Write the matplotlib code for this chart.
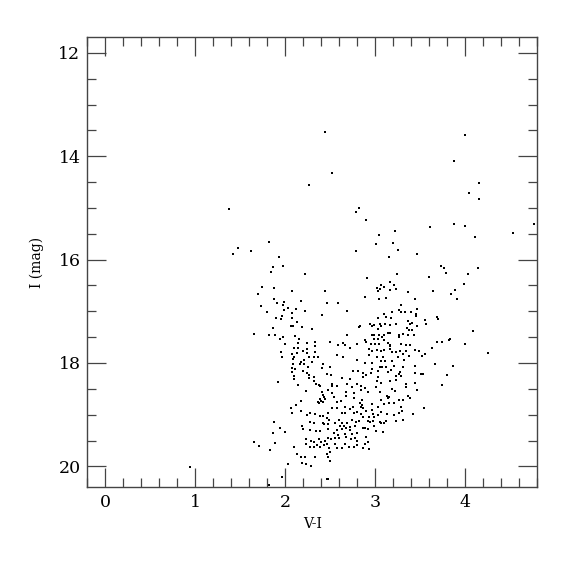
import numpy as np
import matplotlib
matplotlib.use("Agg")
import matplotlib.pyplot as plt
from matplotlib.ticker import MultipleLocator

# colour V-I and magnitude I (rough in the dense core)
vi = [
    1.37, 1.82, 2.44, 2.52, 2.26, 2.82, 2.79, 2.90, 3.61, 3.22, 3.04, 3.20, 3.01,
    4.00, 3.88, 4.16, 4.04, 4.15, 3.88, 4.00, 4.77, 4.53, 4.11,
    1.47, 1.62, 1.42, 1.74, 1.70, 1.73, 1.80, 1.65, 1.82,
    2.79, 1.93, 1.86, 1.97, 1.84, 2.22, 1.87, 2.08, 2.44, 1.88, 1.91, 1.99, 1.98,
    2.17, 2.46, 2.59, 2.03, 2.12, 2.22, 1.99, 2.69, 2.08, 2.41, 1.90, 1.96, 1.95,
    2.08, 2.13, 1.86, 2.06, 2.09, 2.19, 2.30, 2.82, 1.89, 1.98, 2.11, 1.94, 2.15,
    2.69, 2.00, 2.14, 2.24, 2.33, 2.50, 2.59, 2.64, 2.67, 2.72, 2.80, 2.33, 2.10,
    2.14, 2.24, 2.20, 1.95, 2.07, 2.13, 2.24, 2.33, 2.58, 1.96, 2.10, 2.26, 2.32,
    2.36, 2.64, 2.80, 2.09, 2.21, 2.30, 2.17, 2.16, 2.21, 2.09, 2.42, 2.07, 2.11,
    2.25, 2.41, 2.50,
    3.25, 3.47, 3.15, 3.73, 3.76, 3.79, 3.24, 3.60, 2.91, 3.17, 3.07, 3.10, 3.02,
    3.05, 3.03, 3.17, 3.23, 3.21, 3.37, 3.64, 2.89, 3.12, 3.04, 3.44, 3.29, 3.47,
    3.26, 3.29, 3.19, 3.33, 3.40, 3.45, 3.45, 3.10, 3.12, 3.18, 3.03, 3.69, 3.70,
    3.55, 3.37, 3.41, 3.56, 2.94, 2.96, 2.99, 3.05, 3.06, 3.11, 3.16, 3.23, 3.39,
    3.46, 2.83, 3.35, 3.03, 3.41, 3.38, 3.14, 3.16, 2.96, 2.99, 3.04, 3.08, 3.10,
    3.27, 3.31, 3.36, 3.43, 3.27, 2.89, 2.90, 2.99, 3.03, 3.10, 2.95, 3.00, 3.04,
    3.14, 3.16, 3.29, 3.34, 3.39, 3.69, 3.74, 3.82, 3.63, 2.93, 2.97, 3.02, 3.06,
    3.10, 3.16, 3.17, 3.19, 3.23, 3.28, 3.31, 3.34, 3.44, 3.49, 3.55, 3.52, 2.93,
    3.02, 3.09, 3.25, 3.38, 2.89, 2.97, 3.06, 3.11, 3.19, 3.32, 3.44, 3.66, 3.05,
    3.08, 3.12, 3.21, 3.31, 2.97,
    4.14, 4.03, 3.99, 3.89, 3.84, 3.91, 4.09, 3.83, 4.00, 4.26, 3.86,
    1.65, 1.71, 0.94, 1.82,
    2.08, 2.20, 2.24, 2.10, 2.10, 2.26, 2.26, 2.32, 2.46, 2.51, 2.63, 2.72, 2.75,
    2.81, 1.92, 2.14, 2.32, 2.34, 2.37, 2.39, 2.52, 2.52, 2.58, 2.69, 2.74, 2.80,
    2.23, 2.48, 2.41, 2.42, 2.43, 2.44, 2.39, 2.36, 2.37, 2.40, 2.42, 2.52, 2.54,
    2.68, 2.68, 2.58, 2.62, 2.76, 2.77, 2.18, 2.12, 2.06, 2.17, 2.07, 2.52, 2.47,
    2.58, 2.66, 2.72, 2.75, 2.66, 2.63, 2.77, 2.80, 2.24, 2.28, 2.33, 2.39, 2.42,
    2.46, 2.49, 1.87, 2.28, 2.32, 2.42, 2.43, 2.47, 2.55, 2.60, 2.61, 2.63, 2.69,
    2.74, 2.79, 2.82, 2.19, 2.20, 2.27, 2.34, 2.39, 2.48, 2.57, 2.63, 2.65, 2.68,
    2.72, 2.72, 2.78, 1.94, 2.00, 1.86, 2.54, 2.59, 2.67, 2.74, 2.80, 2.23, 2.29,
    2.32, 2.37, 2.40, 2.44, 2.48, 2.51, 2.55, 2.60, 2.68, 2.73, 2.78, 2.80, 1.89,
    2.23, 2.35, 2.43, 2.46, 2.55, 2.67, 2.80, 2.10, 2.27, 2.32, 2.39, 2.49, 2.57,
    2.63, 2.71, 2.76, 1.83, 2.50, 2.46, 2.48, 2.13, 2.17, 2.33, 2.22, 2.19, 2.23,
    2.29, 2.50, 2.03, 1.96, 2.46, 2.48,
    2.87, 2.90, 2.95, 3.03, 3.14, 3.18, 3.23, 3.26, 3.28, 3.29, 3.44, 3.51, 3.53,
    3.80, 2.87, 3.03, 3.16, 3.23, 3.02, 3.07, 3.34, 3.44, 3.74, 2.84, 3.34, 3.01,
    2.89, 3.19, 3.22, 3.46, 2.92, 3.05, 2.84, 3.13, 3.15, 3.14, 3.37, 3.39, 3.27,
    3.31, 3.06, 2.85, 2.83, 2.96, 3.10, 3.15, 3.21, 2.85, 2.84, 2.86, 2.97, 3.03,
    3.06, 3.29, 3.54, 3.30, 2.90, 3.13, 3.21, 3.27, 3.42, 2.98, 3.03, 2.84, 2.87,
    2.93, 2.99, 2.98, 2.92, 2.94, 3.06, 3.05, 3.10, 3.12, 3.23, 3.31, 2.99, 2.86,
    2.89, 2.92, 3.01, 3.09, 2.90, 2.89, 2.92, 2.87, 2.93,
]
imag = [
    15.03, 15.66, 13.53, 14.32, 14.55, 15.01, 15.08, 15.24, 15.36, 15.45, 15.52, 15.67, 15.70,
    13.59, 14.09, 14.52, 14.71, 14.83, 15.31, 15.34, 15.32, 15.48, 15.57,
    15.77, 15.84, 15.89, 16.53, 16.67, 16.90, 17.01, 17.44, 17.45,
    15.83, 15.94, 16.14, 16.12, 16.23, 16.27, 16.54, 16.61, 16.60, 16.77, 16.84, 16.82, 16.88,
    16.81, 16.84, 16.84, 16.93, 16.95, 16.99, 16.98, 16.99, 17.04, 17.08, 17.13, 17.09, 17.14,
    17.13, 17.21, 17.33, 17.29, 17.29, 17.30, 17.35, 17.30, 17.46, 17.49, 17.47, 17.54, 17.54,
    17.46, 17.63, 17.62, 17.61, 17.59, 17.59, 17.65, 17.62, 17.65, 17.71, 17.63, 17.67, 17.71,
    17.71, 17.72, 17.76, 17.79, 17.83, 17.80, 17.80, 17.79, 17.85, 17.89, 17.89, 17.89, 17.89,
    17.89, 17.89, 17.95, 17.93, 17.95, 17.99, 17.99, 18.02, 18.02, 18.02, 18.02, 18.09, 18.11,
    18.08, 18.10, 18.08,
    15.81, 15.90, 15.95, 16.12, 16.17, 16.26, 16.27, 16.33, 16.36, 16.43, 16.50, 16.53, 16.54,
    16.56, 16.61, 16.59, 16.57, 16.50, 16.62, 16.61, 16.72, 16.74, 16.77, 16.76, 16.88, 16.96,
    16.98, 17.01, 17.01, 17.01, 17.01, 17.06, 17.10, 17.06, 17.11, 17.13, 17.13, 17.11, 17.15,
    17.17, 17.18, 17.22, 17.24, 17.25, 17.28, 17.27, 17.24, 17.29, 17.24, 17.27, 17.25, 17.25,
    17.29, 17.29, 17.33, 17.35, 17.36, 17.36, 17.42, 17.42, 17.46, 17.46, 17.46, 17.49, 17.46,
    17.46, 17.44, 17.46, 17.46, 17.50, 17.55, 17.60, 17.54, 17.54, 17.55, 17.63, 17.63, 17.64,
    17.62, 17.65, 17.64, 17.65, 17.66, 17.60, 17.60, 17.55, 17.71, 17.73, 17.76, 17.74, 17.76,
    17.75, 17.67, 17.73, 17.78, 17.79, 17.77, 17.82, 17.77, 17.75, 17.77, 17.82, 17.87, 17.85,
    17.89, 17.89, 17.89, 17.87, 18.00, 18.00, 17.96, 17.96, 17.97, 17.95, 18.05, 18.02, 18.08,
    18.07, 18.07, 18.05, 18.07, 18.11,
    16.16, 16.27, 16.47, 16.59, 16.66, 16.77, 17.38, 17.54, 17.63, 17.80, 18.05,
    19.53, 19.61, 20.01, 20.36,
    18.18, 18.16, 18.20, 18.26, 18.31, 18.23, 18.29, 18.27, 18.21, 18.23, 18.29, 18.31, 18.16,
    18.16, 18.37, 18.42, 18.34, 18.40, 18.43, 18.45, 18.40, 18.44, 18.45, 18.40, 18.47, 18.40,
    18.54, 18.53, 18.57, 18.61, 18.65, 18.69, 18.70, 18.75, 18.77, 18.74, 18.75, 18.58, 18.65,
    18.56, 18.63, 18.75, 18.74, 18.58, 18.67, 18.74, 18.81, 18.88, 18.92, 18.96, 18.88, 18.96,
    18.88, 18.86, 18.90, 18.86, 18.97, 18.97, 18.97, 18.95, 19.01, 18.97, 18.99, 19.03, 19.03,
    19.06, 19.11, 19.15, 19.15, 19.16, 19.16, 19.19, 19.19, 19.16, 19.11, 19.21, 19.16, 19.17,
    19.10, 19.14, 19.13, 19.21, 19.28, 19.30, 19.32, 19.32, 19.27, 19.29, 19.28, 19.22, 19.26,
    19.24, 19.30, 19.21, 19.26, 19.33, 19.35, 19.35, 19.40, 19.37, 19.37, 19.35, 19.47, 19.50,
    19.53, 19.48, 19.53, 19.51, 19.46, 19.47, 19.45, 19.45, 19.44, 19.48, 19.46, 19.50, 19.55,
    19.56, 19.59, 19.59, 19.56, 19.57, 19.56, 19.59, 19.62, 19.63, 19.63, 19.63, 19.65, 19.65,
    19.64, 19.62, 19.63, 19.69, 19.73, 19.77, 19.82, 19.77, 19.81, 19.82, 19.82, 19.94, 19.96,
    20.00, 19.89, 19.95, 20.21, 20.24, 20.25,
    18.20, 18.23, 18.20, 18.16, 18.18, 18.14, 18.25, 18.21, 18.18, 18.25, 18.20, 18.21, 18.21,
    18.24, 18.27, 18.28, 18.34, 18.32, 18.35, 18.38, 18.41, 18.38, 18.43, 18.44, 18.47, 18.47,
    18.49, 18.50, 18.54, 18.53, 18.57, 18.56, 18.53, 18.63, 18.65, 18.68, 18.64, 18.68, 18.71,
    18.71, 18.71, 18.72, 18.77, 18.79, 18.79, 18.77, 18.77, 18.82, 18.85, 18.88, 18.91, 18.85,
    18.94, 18.85, 18.87, 18.92, 18.93, 18.99, 19.01, 18.97, 18.99, 18.98, 19.01, 18.99, 19.04,
    19.05, 19.05, 19.12, 19.13, 19.15, 19.17, 19.14, 19.17, 19.13, 19.13, 19.10, 19.21, 19.25,
    19.25, 19.28, 19.32, 19.33, 19.43, 19.56, 19.53, 19.64, 19.67,
]

plt.rcParams['font.family'] = ['DejaVu Serif']

fig = plt.figure(figsize=(5.75, 5.75), dpi=100)
ax = fig.add_axes([0.152, 0.153, 0.782, 0.782])

ax.scatter(vi, imag, s=3.0, marker='s', color='black', linewidths=0)

ax.set_xlim(-0.2, 4.8)
ax.set_ylim(20.4, 11.7)

ax.xaxis.set_major_locator(MultipleLocator(1))
ax.xaxis.set_minor_locator(MultipleLocator(0.2))
ax.yaxis.set_major_locator(MultipleLocator(2))
ax.yaxis.set_minor_locator(MultipleLocator(0.5))

ax.tick_params(which='both', direction='in', top=True, right=True,
               width=0.9, color='#444444', labelsize=12.5)
ax.tick_params(which='major', length=13.5, pad=5)
ax.tick_params(which='minor', length=6.7)
for s in ax.spines.values():
    s.set_linewidth(1.0)
    s.set_color('#444444')

ax.set_xlabel('V-I', fontsize=10, labelpad=4)
ax.set_ylabel('I (mag)', fontsize=10, labelpad=10)

plt.savefig('out.png', dpi=100)
